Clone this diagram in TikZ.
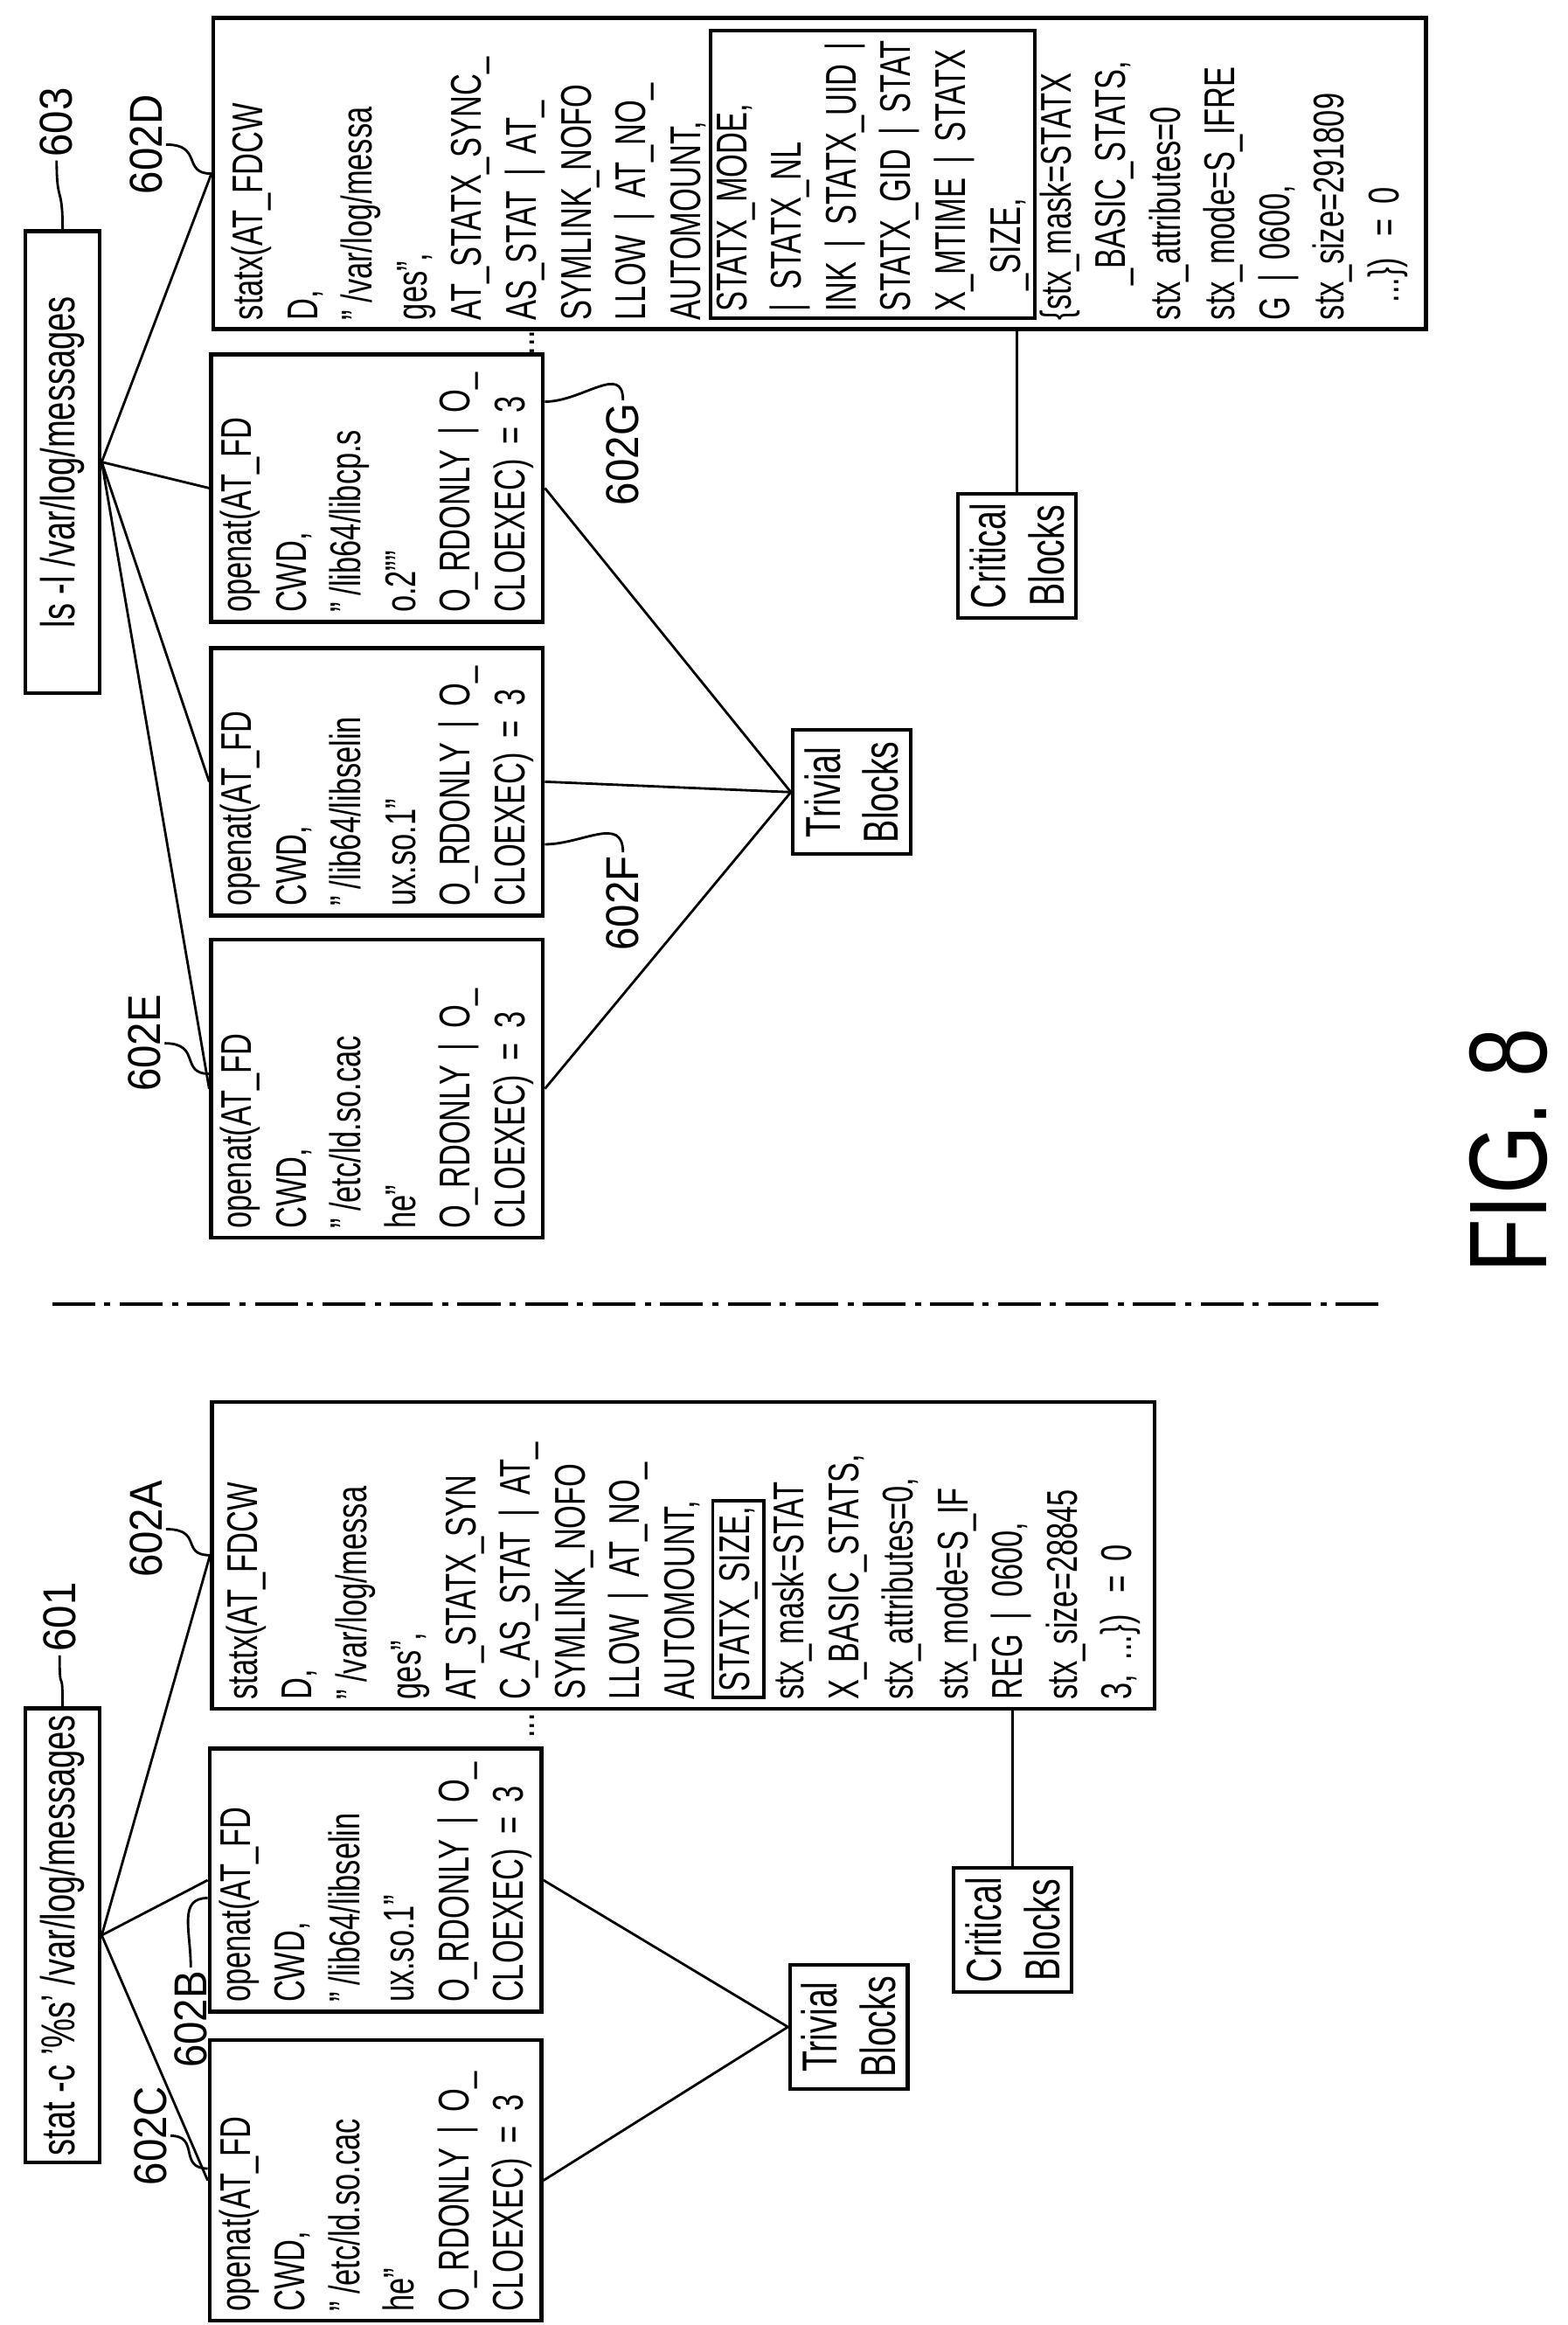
\documentclass[tikz,border=0pt]{standalone}
\usepackage{fontspec}
\setmainfont{Liberation Sans}[FakeStretch=0.7]
\newfontfamily\lblfont{Liberation Sans}[FakeStretch=0.9]
\newfontfamily\figfont{Liberation Sans}[FakeStretch=0.8]
\usetikzlibrary{calc}
\setlength{\fboxsep}{1.5pt}
\setlength{\fboxrule}{1.1pt}

\tikzset{
  blk/.style={draw, line width=1.3pt, rotate=90, align=left, inner sep=3pt,
    font=\fontsize{14}{17.8}\selectfont},
  cmd/.style={draw, line width=1.3pt, rotate=90, inner sep=2pt,
    minimum height=0.85cm, font=\fontsize{15.5}{19}\selectfont},
  grp/.style={draw, line width=1.2pt, rotate=90, align=center, inner sep=2pt,
    minimum width=1.42cm, minimum height=1.35cm, font=\fontsize{16}{19}\selectfont},
  lbl/.style={rotate=90, inner sep=1pt, font=\lblfont\fontsize{15}{15}\selectfont},
  link/.style={line width=0.8pt},
  lead/.style={line width=0.8pt}
}

\begin{document}
\begin{tikzpicture}[x=0.017053cm, y=-0.017053cm]
  \useasboundingbox (0,0) rectangle (1052,1560);

  % upper trace: ls
  \node[cmd, minimum width=5.29cm] (ls) at (42,310) {ls -l /var/log/messages};
  \node[lbl] (l603) at (38,82) {603};
  \draw[lead] (l603.west) .. controls +(0,30) and +(0,-30) .. (ls.east);

  \node[blk, minimum width=3.39cm, minimum height=3.75cm, text width=3.2cm] (E) at (253,730.5)
    {openat(AT\_FD\\CWD,\\"\,/etc/ld.so.cac\\he"\\O\_RDONLY | O\_\\CLOEXEC) = 3};
  \node[blk, minimum width=3.02cm, minimum height=3.75cm, text width=2.85cm] (F) at (253,524.5)
    {openat(AT\_FD\\CWD,\\"\,/lib64/libselin\\ux.so.1"\\O\_RDONLY | O\_\\CLOEXEC) = 3};
  \node[blk, minimum width=3.02cm, minimum height=3.75cm, text width=2.85cm] (G) at (253,327.5)
    {openat(AT\_FD\\CWD,\\"\,/lib64/libcp.s\\o.2""\\O\_RDONLY | O\_\\CLOEXEC) = 3};
  \node[blk, minimum width=3.53cm, minimum height=13.88cm, text width=3.35cm] (D) at (550,116.5)
    {statx(AT\_FDCW\\D,\\"\,/var/log/messa\\ges",\\AT\_STATX\_SYNC\_\\AS\_STAT | AT\_\\SYMLINK\_NOFO\\LLOW | AT\_NO\_\\AUTOMOUNT,\\
     \fbox{\begin{minipage}{3.15cm}STATX\_MODE,\\| STATX\_NL\\INK | STATX\_UID |\\STATX\_GID | STAT\\X\_MTIME | STATX\\\hspace*{0.5em}\_SIZE,\end{minipage}}\\
     \{stx\_mask=STATX\\\hspace*{0.8em}\_BASIC\_STATS,\\stx\_attributes=0\\stx\_mode=S\_IFRE\\G | 0600,\\stx\_size=291809\\\hspace*{0.4em}...\}) = 0};
  \node[rotate=90, font=\fontsize{14}{14}\selectfont] (dotsT) at (357,230) {...};

  \node[grp] (trivT) at (571.5,531.5) {Trivial\\Blocks};
  \node[grp] (critT) at (682.5,373) {Critical\\Blocks};

  \draw[link] (ls.south) -- (D.north);
  \draw[link] (ls.south) -- (G.north);
  \draw[link] (ls.south) -- (F.north);
  \draw[link] (ls.south) -- (E.north);
  \draw[link] (G.south) -- (trivT.north);
  \draw[link] (F.south) -- (trivT.north);
  \draw[link] (E.south) -- (trivT.north);
  \draw[link] (critT.east |- D.west) -- (critT.east);

  \node[lbl] (lD) at (98,97) {602D};
  \draw[lead] (lD.south) .. controls +(25,0) and +(-20,0) .. (D.north);
  \node[lbl] (lE) at (97,700) {602E};
  \draw[lead] (lE.south) .. controls +(25,0) and +(-20,0) .. ($(E.north)+(0,-10)$);
  \node[lbl] (lG) at (418,305) {602G};
  \draw[lead] (lG.east) .. controls +(0,-25) and +(25,0) .. ($(G.south)+(0,-58)$);
  \node[lbl] (lF) at (418,606) {602F};
  \draw[lead] (lF.east) .. controls +(0,-25) and +(25,0) .. ($(F.south)+(0,42)$);

  % separator
  \draw[line width=1pt, dash pattern=on 14pt off 3pt on 2pt off 3pt] (35,875) -- (925,875);

  % lower trace: stat
  \node[cmd, minimum width=5.2cm] (st) at (42,1298.5) {stat -c '\%s' /var/log/messages};
  \node[lbl] (l601) at (40,1085) {601};
  \draw[lead] (l601.west) .. controls +(0,30) and +(0,-30) .. (st.east);

  \node[blk, minimum width=3.14cm, minimum height=3.75cm, text width=3.0cm] (C) at (252,1463)
    {openat(AT\_FD\\CWD,\\"\,/etc/ld.so.cac\\he"\\O\_RDONLY | O\_\\CLOEXEC) = 3};
  \node[blk, minimum width=2.92cm, minimum height=3.75cm, text width=2.8cm] (B) at (252,1261.5)
    {openat(AT\_FD\\CWD,\\"\,/lib64/libselin\\ux.so.1"\\O\_RDONLY | O\_\\CLOEXEC) = 3};
  \node[blk, minimum width=3.46cm, minimum height=10.79cm, text width=3.3cm] (A) at (458.5,1043.5)
    {statx(AT\_FDCW\\D,\\"\,/var/log/messa\\ges",\\AT\_STATX\_SYN\\C\_AS\_STAT | AT\_\\SYMLINK\_NOFO\\LLOW | AT\_NO\_\\AUTOMOUNT,\\\fbox{STATX\_SIZE,}\\stx\_mask=STAT\\X\_BASIC\_STATS,\\stx\_attributes=0,\\stx\_mode=S\_IF\\REG | 0600,\\stx\_size=28845\\3, ...\}) = 0};
  \node[rotate=90, font=\fontsize{14}{14}\selectfont] (dotsB) at (357,1158) {...};

  \node[grp] (trivB) at (569.5,1360) {Trivial\\Blocks};
  \node[grp] (critB) at (679.5,1295) {Critical\\Blocks};

  \draw[link] (st.south) -- (A.north);
  \draw[link] (st.south) -- (B.north);
  \draw[link] (st.south) -- (C.north);
  \draw[link] (B.south) -- (trivB.north);
  \draw[link] (C.south) -- (trivB.north);
  \draw[link] (critB.east |- A.west) -- (critB.east);

  \node[lbl] (lA) at (98,1026) {602A};
  \draw[lead] (lA.south) .. controls +(25,0) and +(-20,0) .. (A.north);
  \node[lbl] (lB) at (128,1355) {602B};
  \draw[lead] (lB.east) .. controls +(0,-25) and +(-20,0) .. ($(B.north)+(0,12)$);
  \node[lbl] (lC) at (101,1433) {602C};
  \draw[lead] (lC.south) .. controls +(20,0) and +(-20,0) .. ($(C.north)+(0,-8)$);

  \node[rotate=90, font=\figfont\fontsize{36}{36}\selectfont] (fig) at (1012,772) {FIG. 8};
\end{tikzpicture}
\end{document}
